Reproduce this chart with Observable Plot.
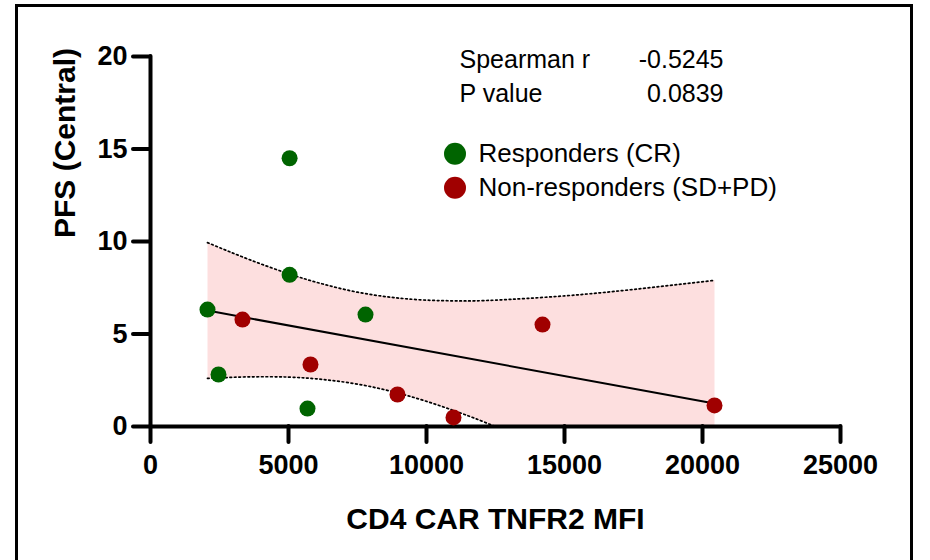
<!DOCTYPE html>
<html>
<head>
<meta charset="utf-8">
<script src="https://cdn.jsdelivr.net/npm/d3@7"></script>
<script src="https://cdn.jsdelivr.net/npm/@observablehq/plot@0.6"></script>
<style>
  html, body { margin: 0; padding: 0; background: #fff; }
  #wrap { position: relative; width: 930px; height: 560px; overflow: hidden; background: #fff; }
  #border { position: absolute; left: 15px; top: 4px; width: 898px; height: 640px; border: 3px solid #000; box-sizing: border-box; pointer-events: none; }
</style>
</head>
<body>
<div id="wrap">
  <div id="chart"></div>
  <div id="border"></div>
</div>
<script>
// ---- data ----
const groups = ["Responders (CR)", "Non-responders (SD+PD)"];
const groupColors = ["#006400", "#a00000"];

const responderX = [2065, 2464, 5040, 5040, 5688, 7790];
const responderY = [6.32, 2.81, 14.5, 8.2, 0.97, 6.05];

const nonResponderX = [3333, 5797, 8949, 10978, 14203, 20435];
const nonResponderY = [5.78, 3.35, 1.73, 0.49, 5.51, 1.14];

// dotted 95% confidence band edges
const bandX     = [2065, 3500, 5000, 6250, 7500, 8750, 10000, 11250, 12500, 15000, 17500, 20435];
const bandUpper = [9.94, 9.07, 8.26, 7.70, 7.26, 6.98, 6.83, 6.79, 6.83, 7.06, 7.41, 7.90];
const bandLower = [2.60, 2.68, 2.67, 2.54, 2.29, 1.89, 1.36, 0.72, -0.01, -1.61, -3.33, -5.43];

const xTicks = [0, 5000, 10000, 15000, 20000, 25000];
const yTicks = [0, 5, 10, 15, 20];

const statLabels = ["Spearman r", "P value"];
const statValues = ["-0.5245", "0.0839"];

const xTitle = "CD4 CAR TNFR2 MFI";
const yTitle = "PFS (Central)";

// ---- tables built from the arrays ----
const points = [
  ...responderX.map((x, i) => ({x, y: responderY[i], group: groups[0]})),
  ...nonResponderX.map((x, i) => ({x, y: nonResponderY[i], group: groups[1]}))
];
const band = bandX.map((x, i) => ({x, upper: bandUpper[i], lower: bandLower[i]}));

const FONT = "'Liberation Sans', Arial, Helvetica, sans-serif";

const marks = [
  // regression line with 95% CI band
  Plot.linearRegressionY(points, {
    x: "x", y: "y", ci: 0.95,
    stroke: "#000", strokeWidth: 2,
    fill: "#fddfdf", fillOpacity: 1, clip: true
  }),
  // dotted band edges
  Plot.line(band, {x: "x", y: "upper", curve: "natural", stroke: "#000", strokeWidth: 1.7, strokeDasharray: "1.7,2.8", clip: true}),
  Plot.line(band, {x: "x", y: "lower", curve: "natural", stroke: "#000", strokeWidth: 1.7, strokeDasharray: "1.7,2.8", clip: true}),
  // axis lines
  Plot.ruleX([0], {stroke: "#000", strokeWidth: 4, strokeLinecap: "round"}),
  Plot.ruleY([0], {stroke: "#000", strokeWidth: 4, strokeLinecap: "round"}),
  // axes
  Plot.axisX({
    ticks: xTicks, tickSize: 16, tickPadding: 12, tickFormat: d3.format("d"),
    fontSize: 27, fontWeight: "bold", strokeWidth: 4, strokeLinecap: "round",
    stroke: "#000", fill: "#000", label: null
  }),
  Plot.axisY({
    ticks: yTicks, tickSize: 17, tickPadding: 6, tickFormat: d3.format("d"),
    fontSize: 27, fontWeight: "bold", strokeWidth: 4, strokeLinecap: "round",
    stroke: "#000", fill: "#000", label: null
  }),
  // points
  Plot.dot(points, {x: "x", y: "y", fill: "group", r: 8, stroke: null}),
  // axis titles
  Plot.text([xTitle], {frameAnchor: "bottom", text: d => d, dy: 92.4, lineAnchor: "middle", fontSize: 30, fontWeight: "bold", fill: "#000"}),
  Plot.text([yTitle], {frameAnchor: "left", text: d => d, dx: -85, dy: -3.5, rotate: -90, lineAnchor: "middle", fontSize: 30, fontWeight: "bold", fill: "#000"})
];

// statistics block
statLabels.forEach((lab, i) => {
  marks.push(Plot.text([lab], {frameAnchor: "top-left", text: d => d, dx: 309, dy: 3.3 + i * 34.4, textAnchor: "start", lineAnchor: "middle", fontSize: 25, fill: "#000"}));
  marks.push(Plot.text([statValues[i]], {frameAnchor: "top-left", text: d => d, dx: 573, dy: 3.3 + i * 34.4, textAnchor: "end", lineAnchor: "middle", fontSize: 25, fill: "#000"}));
});

// legend
groups.forEach((g, i) => {
  marks.push(Plot.dot([g], {frameAnchor: "top-left", dx: 304.5, dy: 97.3 + i * 34, r: 11, fill: groupColors[i], stroke: null}));
  marks.push(Plot.text([g], {frameAnchor: "top-left", text: d => d, dx: 328, dy: 97 + i * 34, textAnchor: "start", lineAnchor: "middle", fontSize: 26, fill: "#000"}));
});

const chart = Plot.plot({
  width: 930,
  height: 560,
  marginLeft: 150,
  marginRight: 90,
  marginTop: 56,
  marginBottom: 134,
  x: {domain: [0, 25000]},
  y: {domain: [0, 20]},
  color: {domain: groups, range: groupColors},
  style: {fontFamily: FONT, background: "#fff", color: "#000", overflow: "visible"},
  marks
});

document.getElementById("chart").appendChild(chart);
</script>
</body>
</html>
